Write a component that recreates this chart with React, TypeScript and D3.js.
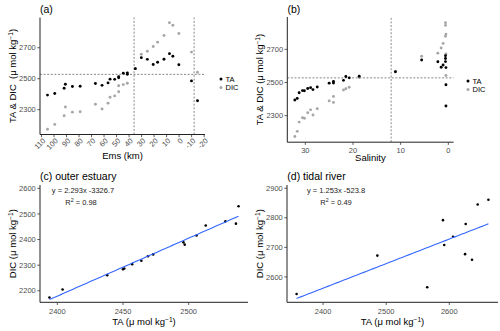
import React from "react";
import * as d3 from "d3";

// ---- data (one entry per sample) ----
const emsKm = [105.2, 99.4, 91.9, 90.9, 85.3, 79.1, 66.9, 61.6, 56.8, 55.2, 51.5, 48.3, 48.3, 44.6, 41.4, 41.4,
  35.0, 30.2, 25.4, 20.7, 17.2, 12.1, 7.7, 5.0, 0.2, -9.9, -14.7];
const salinity = [32.2, 31.7, 31.3, 29.5, 30.2, 30.6, 28.9, 28.4, 27.5, 24.1, 25.0, 24.1, 22.0, 21.5, 20.8, 18.7,
  11.1, 5.6, 2.2, 1.5, 1.1, 0.6, 0.6, 0.6, 0.5, 0.5, 0.5];
const taValues = [2394, 2404, 2438, 2464, 2450, 2451, 2469, 2457, 2473, 2497, 2496, 2506, 2513, 2536, 2528, 2538,
  2565, 2636, 2625, 2592, 2606, 2626, 2662, 2645, 2590, 2486, 2358];
const dicValues = [2174, 2205, 2261, 2317, 2284, 2287, 2335, 2304, 2342, 2380, 2389, 2416, 2455, 2462, 2471, 2530,
  2565, 2658, 2677, 2708, 2736, 2779, 2861, 2845, 2792, 2672, 2542];
const zone = ["outer", "outer", "outer", "outer", "outer", "outer", "outer", "outer", "outer", "outer", "outer",
  "outer", "outer", "outer", "outer", "outer",
  "tidal", "tidal", "tidal", "tidal", "tidal", "tidal", "tidal", "tidal", "tidal", "tidal", "tidal"];

// ---- ticks & reference values ----
const emsTicks = [110, 100, 90, 80, 70, 60, 50, 40, 30, 20, 10, 0, -10, -20];
const salTicks = [30, 20, 10, 0];
const concTicks = [2300, 2500, 2700];
const taTicksC = [2400, 2450, 2500];
const dicTicksC = [2200, 2300, 2400, 2500, 2600];
const taTicksD = [2400, 2500, 2600];
const dicTicksD = [2600, 2700, 2800, 2900];
const dicDomainC = [2155, 2613];
const dicDomainD = [2514, 2911];
const refEms = [36, -12];
const refSal = [12];
const refConc = [2528];
const eqLabels = ["y = 2.293x -3326.7", "y = 1.253x -523.8"];
const r2Labels = ["0.98", "0.49"];
const legendLabels = ["TA", "DIC"];

const FONT = "Liberation Sans, Arial, Helvetica, sans-serif";
const TICK_COL = "#4d4d4d";
const DIC_COL = "#a6a6a6";

function expand(ext: number[], f = 0.05) {
  const r = ext[1] - ext[0];
  return [ext[0] - r * f, ext[1] + r * f];
}

function Unit({ prefix }: { prefix: string }) {
  return (
    <>
      {prefix}(μ mol kg
      <tspan baselineShift="super" fontSize="0.7em">−1</tspan>)
    </>
  );
}

function AxisLeft({ scale, ticks, x, fmt }: any) {
  const [y0, y1] = scale.range();
  return (
    <g>
      <line x1={x} x2={x} y1={y0} y2={y1} stroke="#222" strokeWidth={1} />
      {ticks.map((t: number) => (
        <g key={t}>
          <line x1={x - 2.7} x2={x} y1={scale(t)} y2={scale(t)} stroke="#333" strokeWidth={0.8} />
          <text x={x - 4.2} y={scale(t)} dy="0.35em" textAnchor="end" fontSize={7.5} fill={TICK_COL} fontFamily={FONT}>
            {fmt ? fmt(t) : t}
          </text>
        </g>
      ))}
    </g>
  );
}

function AxisBottom({ scale, ticks, y, rotate }: any) {
  const [x0, x1] = scale.range();
  return (
    <g>
      <line x1={x0} x2={x1} y1={y} y2={y} stroke="#222" strokeWidth={1} />
      {ticks.map((t: number) => (
        <g key={t}>
          <line x1={scale(t)} x2={scale(t)} y1={y} y2={y + 2.7} stroke="#333" strokeWidth={0.8} />
          {rotate ? (
            <text
              transform={`translate(${scale(t) + 2.5},${y + 5}) rotate(-45)`}
              textAnchor="end"
              dy="0.35em"
              fontSize={7.5}
              fill={TICK_COL}
              fontFamily={FONT}
            >
              {t}
            </text>
          ) : (
            <text x={scale(t)} y={y + 11.2} textAnchor="middle" fontSize={7.5} fill={TICK_COL} fontFamily={FONT}>
              {t}
            </text>
          )}
        </g>
      ))}
    </g>
  );
}

function Legend({ x, y }: { x: number; y: number }) {
  return (
    <g fontFamily={FONT} fontSize={7.5}>
      {legendLabels.map((l, i) => (
        <g key={l}>
          <circle cx={x} cy={y + i * 8.6} r={1.5} fill={i === 0 ? "#000" : DIC_COL} />
          <text x={x + 4.5} y={y + i * 8.6} dy="0.35em" fill="#000">
            {l}
          </text>
        </g>
      ))}
    </g>
  );
}

function regress(xs: number[], ys: number[]) {
  const mx = d3.mean(xs)!;
  const my = d3.mean(ys)!;
  let sxy = 0, sxx = 0;
  xs.forEach((v, i) => {
    sxy += (v - mx) * (ys[i] - my);
    sxx += (v - mx) * (v - mx);
  });
  const b = sxy / sxx;
  return { b, a: my - b * mx };
}

export default function App() {
  const idx = d3.range(taValues.length);
  const concExt = expand([d3.min([...taValues, ...dicValues])!, d3.max([...taValues, ...dicValues])!]);

  // panel a
  const ax = d3.scaleLinear().domain(expand(d3.extent(emsKm) as number[]).reverse()).range([40, 205]);
  const ay = d3.scaleLinear().domain(concExt).range([134.5, 17.5]);
  // panel b
  const bx = d3.scaleLinear().domain(expand(d3.extent(salinity) as number[]).reverse()).range([287.3, 453.5]);
  const by = d3.scaleLinear().domain(concExt).range([142.2, 17]);

  const outer = idx.filter((i) => zone[i] === "outer");
  const tidal = idx.filter((i) => zone[i] === "tidal");

  const cx = d3.scaleLinear().domain(expand(d3.extent(outer.map((i) => taValues[i])) as number[])).range([40, 248]);
  const cy = d3.scaleLinear().domain(dicDomainC).range([302.3, 185]);
  const dx = d3.scaleLinear().domain(expand(d3.extent(tidal.map((i) => taValues[i])) as number[])).range([287, 498]);
  const dy = d3.scaleLinear().domain(dicDomainD).range([302.3, 185]);

  const regLine = (sub: number[], sx: any, sy: any) => {
    const xs = sub.map((i) => taValues[i]);
    const ys = sub.map((i) => dicValues[i]);
    const { a, b } = regress(xs, ys);
    const [lo, hi] = d3.extent(xs) as number[];
    const pts = d3.range(0, 81).map((k) => lo + ((hi - lo) * k) / 80);
    return d3.line<number>().x((v) => sx(v)).y((v) => sy(a + b * v))(pts)!;
  };

  const dash = { stroke: "#555", strokeWidth: 0.7, strokeDasharray: "2,1.6" };

  return (
    <svg width={500} height={331} style={{ display: "block", position: "absolute", left: 0, top: 0, background: "#fff" }}>
      <rect width={500} height={331} fill="#fff" />
      {/* ---- panel a ---- */}
      <text x={40} y={12.5} fontSize={10.5} fontFamily={FONT}>(a)</text>
      {refEms.map((r) => (
        <line key={r} x1={ax(r)} x2={ax(r)} y1={ay.range()[0]} y2={ay.range()[1]} {...dash} />
      ))}
      <line x1={ax.range()[0]} x2={ax.range()[1]} y1={ay(refConc[0])} y2={ay(refConc[0])} {...dash} />
      {idx.map((i) => (
        <circle key={"ad" + i} cx={ax(emsKm[i])} cy={ay(dicValues[i])} r={1.45} fill={DIC_COL} />
      ))}
      {idx.map((i) => (
        <circle key={"at" + i} cx={ax(emsKm[i])} cy={ay(taValues[i])} r={1.45} fill="#000" />
      ))}
      <AxisLeft scale={ay} ticks={concTicks} x={40} />
      <AxisBottom scale={ax} ticks={emsTicks} y={134.5} rotate />
      <text transform={`translate(12.5,${(ay.range()[0] + ay.range()[1]) / 2}) rotate(-90)`} textAnchor="middle" dy="0.35em"
        fontSize={9.5} fontFamily={FONT} style={{ whiteSpace: "pre" }}>
        <Unit prefix={"TA & DIC  "} />
      </text>
      <text x={(40 + 205) / 2} y={158.5} textAnchor="middle" fontSize={9.5} fontFamily={FONT}>Ems (km)</text>
      <Legend x={221} y={79} />

      {/* ---- panel b ---- */}
      <text x={287.5} y={12.5} fontSize={10.5} fontFamily={FONT}>(b)</text>
      {refSal.map((r) => (
        <line key={r} x1={bx(r)} x2={bx(r)} y1={by.range()[0]} y2={by.range()[1]} {...dash} />
      ))}
      <line x1={bx.range()[0]} x2={bx.range()[1]} y1={by(refConc[0])} y2={by(refConc[0])} {...dash} />
      {idx.map((i) => (
        <circle key={"bd" + i} cx={bx(salinity[i])} cy={by(dicValues[i])} r={1.45} fill={DIC_COL} />
      ))}
      {idx.map((i) => (
        <circle key={"bt" + i} cx={bx(salinity[i])} cy={by(taValues[i])} r={1.45} fill="#000" />
      ))}
      <AxisLeft scale={by} ticks={concTicks} x={287.3} />
      <AxisBottom scale={bx} ticks={salTicks} y={142.2} />
      <text transform={`translate(260,${(by.range()[0] + by.range()[1]) / 2}) rotate(-90)`} textAnchor="middle" dy="0.35em"
        fontSize={9.5} fontFamily={FONT}>
        <Unit prefix={"TA & DIC "} />
      </text>
      <text x={(287.3 + 453.5) / 2} y={161} textAnchor="middle" fontSize={9.5} fontFamily={FONT}>Salinity</text>
      <Legend x={468} y={81} />

      {/* ---- panel c ---- */}
      <text x={40} y={180} fontSize={10.5} fontFamily={FONT}>(c) outer estuary</text>
      {outer.map((i) => (
        <circle key={"c" + i} cx={cx(taValues[i])} cy={cy(dicValues[i])} r={1.3} fill="#000" />
      ))}
      <path d={regLine(outer, cx, cy)} fill="none" stroke="#3366FF" strokeWidth={1.1} />
      <AxisLeft scale={cy} ticks={dicTicksC} x={40} />
      <AxisBottom scale={cx} ticks={taTicksC} y={302.3} />
      <text fontFamily={FONT} fontSize={7.5} textAnchor="middle" fill="#222">
        <tspan x={83} y={193}>{eqLabels[0]}</tspan>
        <tspan x={81} y={205}>R<tspan baselineShift="super" fontSize="0.7em">2</tspan> = {r2Labels[0]}</tspan>
      </text>
      <text transform={`translate(12.5,${(302.3 + 185) / 2}) rotate(-90)`} textAnchor="middle" dy="0.35em"
        fontSize={9.5} fontFamily={FONT}>
        <Unit prefix={"DIC "} />
      </text>
      <text x={(40 + 248) / 2} y={325} textAnchor="middle" fontSize={9.5} fontFamily={FONT}>
        <Unit prefix={"TA "} />
      </text>

      {/* ---- panel d ---- */}
      <text x={287.3} y={180} fontSize={10.5} fontFamily={FONT}>(d) tidal river</text>
      {tidal.map((i) => (
        <circle key={"d" + i} cx={dx(taValues[i])} cy={dy(dicValues[i])} r={1.3} fill="#000" />
      ))}
      <path d={regLine(tidal, dx, dy)} fill="none" stroke="#3366FF" strokeWidth={1.1} />
      <AxisLeft scale={dy} ticks={dicTicksD} x={287} />
      <AxisBottom scale={dx} ticks={taTicksD} y={302.3} />
      <text fontFamily={FONT} fontSize={7.5} textAnchor="middle" fill="#222">
        <tspan x={336} y={193}>{eqLabels[1]}</tspan>
        <tspan x={336} y={205}>R<tspan baselineShift="super" fontSize="0.7em">2</tspan> = {r2Labels[1]}</tspan>
      </text>
      <text transform={`translate(260,${(302.3 + 185) / 2}) rotate(-90)`} textAnchor="middle" dy="0.35em"
        fontSize={9.5} fontFamily={FONT}>
        <Unit prefix={"DIC "} />
      </text>
      <text x={(287 + 498) / 2} y={325} textAnchor="middle" fontSize={9.5} fontFamily={FONT}>
        <Unit prefix={"TA "} />
      </text>
    </svg>
  );
}
